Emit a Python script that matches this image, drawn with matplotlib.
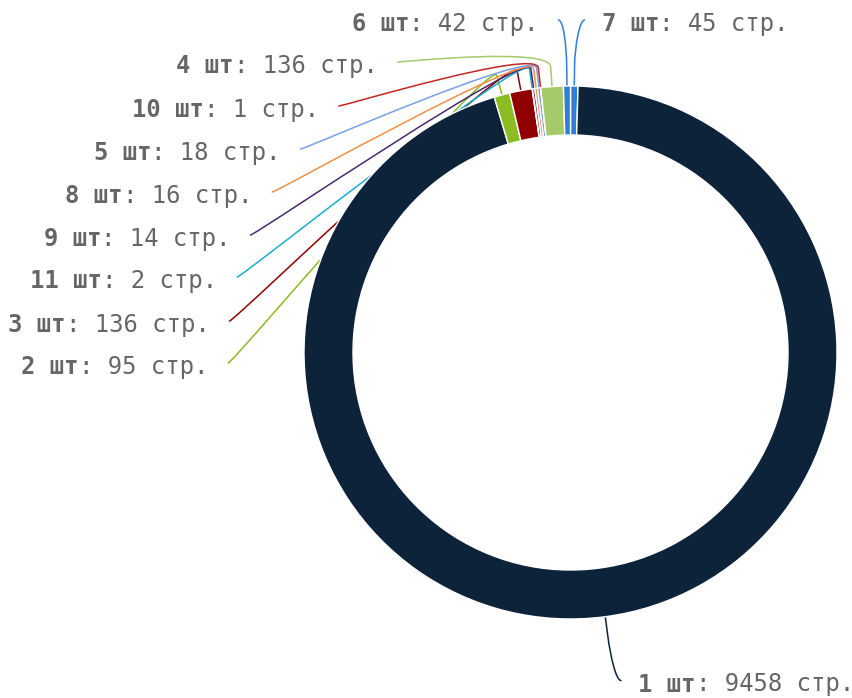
import numpy as np
import matplotlib
matplotlib.use('Agg')
import matplotlib.pyplot as plt
from matplotlib.path import Path
from matplotlib.patches import PathPatch

# slices in drawing order, clockwise from 12 o'clock
counts = ['7', '1', '2', '3', '11', '9', '8', '5', '10', '4', '6']
pages = [45, 9458, 95, 136, 2, 14, 16, 18, 1, 136, 42]
colors = ['#2f7ed8', '#0d233a', '#8bbc21', '#910000', '#1aadce', '#492970',
          '#f28f43', '#77a1e5', '#c42525', '#a6c96a', '#2f7ed8']

# label layout in pixels (top-left origin): side, cell edge x, baseline y
label_layout = {
    '7': ('left', 601.6, 31),
    '1': ('left', 638.0, 691.5),
    '2': ('right', 208.2, 374),
    '3': ('right', 209.5, 332),
    '11': ('right', 217.2, 288),
    '9': ('right', 230.5, 246),
    '8': ('right', 252.2, 203),
    '5': ('right', 280.5, 160),
    '10': ('right', 318.8, 117),
    '4': ('right', 377.5, 73),
    '6': ('right', 538.5, 31),
}

W, H = 852, 698
CX, CY = 570.5, 352.5
R_OUT, RING = 266.5, 49
FS = 17.2                      # pt
ADV = FS * 100 / 72 * 0.60205  # monospace advance in px
TXT = '#666666'
MONO = 'DejaVu Sans Mono'

fig = plt.figure(figsize=(W / 100, H / 100), dpi=100)
ax = fig.add_axes([0, 0, 1, 1])

wedges, _ = ax.pie(pages, colors=colors, startangle=90, counterclock=False,
                   radius=R_OUT, center=(CX, H - CY), frame=True,
                   wedgeprops=dict(width=RING, edgecolor='white', linewidth=1))
ax.set_xlim(0, W)
ax.set_ylim(0, H)
ax.set_aspect('equal')
ax.axis('off')


def polar(r, ang):
    return (CX + r * np.cos(ang), H - CY + r * np.sin(ang))


for w, n, v, c in zip(wedges, counts, pages, colors):
    side, xe, base = label_layout[n]
    ang = np.radians((w.theta1 + w.theta2) / 2)
    p_edge = polar(R_OUT, ang)
    p_brk = polar(R_OUT + 20, ang)
    p_ctl = polar(R_OUT + 40, ang)
    sy = H - (base - 11)
    if side == 'right':
        sx = xe + 20
        c1 = (sx + 5, sy)
    else:
        sx = xe - 17
        c1 = (sx - 5, sy)
    verts = [(sx, sy), c1, p_ctl, p_brk, p_edge]
    codes = [Path.MOVETO, Path.CURVE4, Path.CURVE4, Path.CURVE4, Path.LINETO]
    ax.add_patch(PathPatch(Path(verts, codes), fill=False, edgecolor=c,
                           lw=1.1, zorder=0.5, capstyle='round'))

    bold = f'{n} шт'
    rest = f': {v} стр.'
    total = len(bold) + len(rest)
    x0 = xe - total * ADV if side == 'right' else xe
    yb = H - base
    ax.text(x0, yb, bold, ha='left', va='baseline', fontsize=FS,
            family=MONO, fontweight='bold', color=TXT)
    ax.text(x0 + len(bold) * ADV, yb, rest, ha='left', va='baseline',
            fontsize=FS, family=MONO, color=TXT)

fig.savefig('out.png', dpi=100)
